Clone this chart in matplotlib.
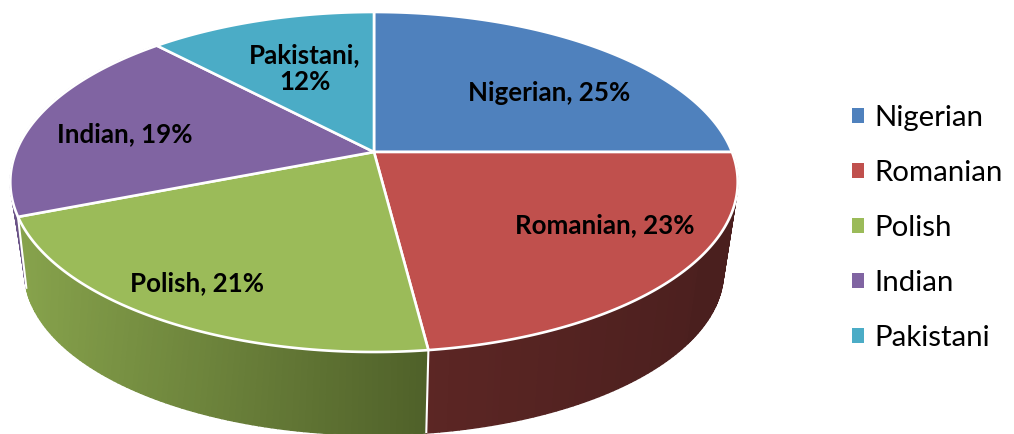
import numpy as np
import matplotlib
matplotlib.use("Agg")
import matplotlib.pyplot as plt
from matplotlib.patches import Polygon, Patch

categories = ["Nigerian", "Romanian", "Polish", "Indian", "Pakistani"]
values = [25, 23, 21, 19, 12]
colors = ["#4F81BD", "#C0504D", "#9BBB59", "#8064A2", "#4BACC6"]
wall_left = {"Romanian": "#5C2624", "Polish": "#87A34C", "Indian": "#6A5387"}
wall_right = {"Romanian": "#4A1F1E", "Polish": "#4F6029", "Indian": "#6A5387"}

plt.rcParams["font.family"] = ["Lato", "DejaVu Sans"]
fig = plt.figure(figsize=(10.14, 4.34), dpi=100)
ax = fig.add_axes([0, 0, 1, 1])
ax.set_xlim(0, 1014)
ax.set_ylim(434, 0)
ax.axis("off")

K = 0.1765


def project(theta, r=1.0, cx=374, cy=152, a=358, c=164.7):
    u, v = r * np.sin(theta), r * np.cos(theta)
    d = 1 + K * v
    return cx + a * u / d, cy - c * v / d


BOTTOM = dict(cx=374, cy=243, a=344, c=158)


def project_bottom(theta):
    # the base circle is seen under a slight parallax against the top face
    return project(theta + np.radians(6) * np.maximum(0, -np.sin(theta)), **BOTTOM)


edges = 2 * np.pi * np.concatenate([[0], np.cumsum(values)]) / np.sum(values)


def hex_mix(c1, c2, t):
    a = np.array(matplotlib.colors.to_rgb(c1))
    b = np.array(matplotlib.colors.to_rgb(c2))
    return a + (b - a) * t


def tangent(side):
    """Indices of the outer common tangent of the two rims on one side."""
    th = np.linspace(0, 2 * np.pi, 1441)
    xt, yt = project(th)
    xb, yb = project_bottom(th)
    best = None
    for phi in np.radians(np.linspace(0, 40, 161)):
        nx, ny = side * np.cos(phi), np.sin(phi)
        it = np.argmax(nx * xt + ny * yt)
        ib = np.argmax(nx * xb + ny * yb)
        gap = abs((nx * xt[it] + ny * yt[it]) - (nx * xb[ib] + ny * yb[ib]))
        if best is None or gap < best[0]:
            best = (gap, (xt[it], yt[it]), (xb[ib], yb[ib]), th[it], th[ib])
    return best[1:]


# side walls: painted back to front, left-most first
for i in [3, 2, 1]:
    name = categories[i]
    t0, t1 = edges[i], edges[i + 1]
    n = 90
    th = np.linspace(t0, t1, n + 1)
    xt, yt = project(th)
    xb, yb = project_bottom(th)
    xmin, xmax = min(xt.min(), xb.min()), max(xt.max(), xb.max())
    for j in range(n):
        xm = (xt[j] + xt[j + 1]) / 2
        f = (xm - xmin) / (xmax - xmin)
        col = hex_mix(wall_left[name], wall_right[name], f)
        ax.add_patch(Polygon([(xt[j], yt[j]), (xt[j + 1], yt[j + 1]),
                              (xb[j + 1], yb[j + 1]), (xb[j], yb[j])],
                             closed=True, facecolor=col, edgecolor=col,
                             linewidth=1.0, zorder=2))

# silhouette fillers up to the tangent lines
for side, name, a_top, a_bot in [(1, "Romanian", np.radians(125), np.radians(125)),
                                  (-1, "Indian", edges[3], edges[3])]:
    pt, pb, tt, tb = tangent(side)
    st = np.linspace(tt, a_top, 40)
    sb = np.linspace(a_bot, tb, 40)
    xs = np.r_[project(st)[0], project_bottom(sb)[0]]
    ys = np.r_[project(st)[1], project_bottom(sb)[1]]
    col = wall_right[name]
    ax.add_patch(Polygon(np.column_stack([xs, ys]), closed=True, facecolor=col,
                         edgecolor=col, linewidth=0.5, zorder=1.5 if side < 0 else 2.5))

# seams between the walls
for i in [2, 3]:
    x0, y0 = project(edges[i])
    x1, y1 = project_bottom(edges[i])
    ax.plot([x0, x1], [y0, y1], color="white", lw=1.5, zorder=3, solid_capstyle="butt")

# top disc
for i, name in enumerate(categories):
    th = np.linspace(edges[i], edges[i + 1], 120)
    x, y = project(th)
    cx0, cy0 = project(0.0, r=0.0)
    pts = np.column_stack([np.r_[cx0, x], np.r_[cy0, y]])
    ax.add_patch(Polygon(pts, closed=True, facecolor=colors[i], edgecolor="white",
                         linewidth=1.9, joinstyle="round", zorder=4))

# labels
lab_pos = [(549, 93), (605, 225), (197, 283), (125, 134), (305, 69)]
lab_txt = ["Nigerian, 25%", "Romanian, 23%", "Polish, 21%", "Indian, 19%", "Pakistani,\n12%"]
for (x, y), s in zip(lab_pos, lab_txt):
    ax.text(x, y, s, ha="center", va="center", fontsize=18.6, fontweight="bold",
            color="black", zorder=5, linespacing=1.15)

handles = [Patch(facecolor=c, edgecolor="none", label=n) for c, n in zip(colors, categories)]
ax.legend(handles=handles, loc="center left", bbox_to_anchor=(852 / 1014, 1 - 228 / 434),
          frameon=False, fontsize=21.2, handlelength=0.42, handleheight=0.42,
          handletextpad=0.34, labelspacing=0.985, borderpad=0, borderaxespad=0)

fig.savefig("out.png", dpi=100)
